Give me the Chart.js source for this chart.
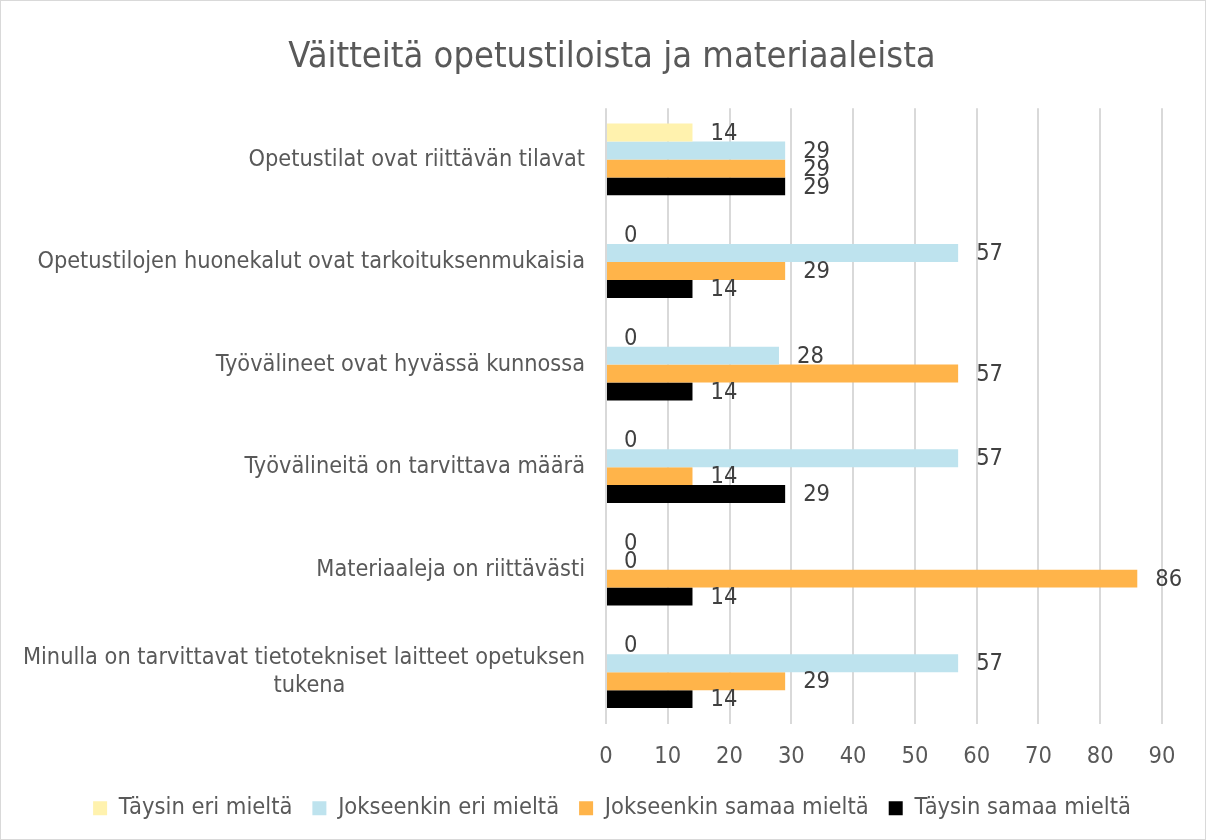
<!DOCTYPE html>
<html>
<head>
<meta charset="utf-8">
<script src="https://cdn.jsdelivr.net/npm/chart.js@4"></script>
<style>
html,body{margin:0;padding:0;background:#fff;}
canvas{display:block;}
</style>
</head>
<body>
<canvas id="c" width="1206" height="840"></canvas>
<script>
const titleText = 'Väitteitä opetustiloista ja materiaaleista';
const categories = [
  'Opetustilat ovat riittävän tilavat',
  'Opetustilojen huonekalut ovat tarkoituksenmukaisia',
  'Työvälineet ovat hyvässä kunnossa',
  'Työvälineitä on tarvittava määrä',
  'Materiaaleja on riittävästi',
  ['Minulla on tarvittavat tietotekniset laitteet opetuksen', 'tukena' + '\u00a0'.repeat(36)]
];
const seriesNames = ['Täysin eri mieltä', 'Jokseenkin eri mieltä', 'Jokseenkin samaa mieltä', 'Täysin samaa mieltä'];
const taysinEri = [14, 0, 0, 0, 0, 0];
const jokseenkinEri = [29, 57, 28, 57, 0, 57];
const jokseenkinSamaa = [29, 29, 57, 14, 86, 29];
const taysinSamaa = [29, 14, 14, 29, 14, 14];
const xTicks = [0, 10, 20, 30, 40, 50, 60, 70, 80, 90];
const colors = ['#FFF2AE', '#BEE3EE', '#FFB44A', '#000000'];

const FONT = '"DejaVu Sans Condensed", "Liberation Sans Narrow", "DejaVu Sans", sans-serif';

const frame = {
  id: 'frame',
  beforeDraw(chart) {
    const ctx = chart.ctx;
    ctx.save();
    ctx.fillStyle = '#fff';
    ctx.fillRect(0, 0, chart.width, chart.height);
    ctx.strokeStyle = '#d9d9d9';
    ctx.lineWidth = 1;
    ctx.strokeRect(0.5, 0.5, chart.width - 1, chart.height - 1);
    ctx.restore();
  }
};

const valueLabels = {
  id: 'valueLabels',
  afterDatasetsDraw(chart) {
    const ctx = chart.ctx;
    ctx.save();
    ctx.font = '23.5px ' + FONT;
    ctx.fillStyle = '#404040';
    ctx.textAlign = 'left';
    ctx.textBaseline = 'middle';
    chart.data.datasets.forEach((ds, i) => {
      const meta = chart.getDatasetMeta(i);
      meta.data.forEach((bar, j) => {
        ctx.fillText(String(ds.data[j]), bar.x + 18, bar.y + 1);
      });
    });
    ctx.restore();
  }
};

new Chart(document.getElementById('c'), {
  type: 'bar',
  data: {
    labels: categories,
    datasets: [
      { label: seriesNames[0], data: taysinEri, backgroundColor: colors[0] },
      { label: seriesNames[1], data: jokseenkinEri, backgroundColor: colors[1] },
      { label: seriesNames[2], data: jokseenkinSamaa, backgroundColor: colors[2] },
      { label: seriesNames[3], data: taysinSamaa, backgroundColor: colors[3] }
    ]
  },
  options: {
    indexAxis: 'y',
    responsive: false,
    animation: false,
    devicePixelRatio: 1,
    layout: { padding: { left: 18, right: 0, top: 0, bottom: 10 } },
    datasets: { bar: { categoryPercentage: 0.7, barPercentage: 1.0 } },
    scales: {
      x: {
        min: 0, max: 90,
        afterBuildTicks(scale) { scale.ticks = xTicks.map(v => ({ value: v })); },
        afterFit(scale) { scale.height = 53; },
        grid: { color: '#d9d9d9', lineWidth: 2, drawTicks: false },
        border: { display: false },
        ticks: { color: '#595959', font: { family: FONT, size: 23.5 }, padding: 19 }
      },
      y: {
        afterFit(scale) { scale.width = 588; },
        grid: { display: false },
        border: { display: false },
        ticks: { color: '#595959', font: { family: FONT, size: 23.3 }, padding: 13 }
      },
      yRight: {
        type: 'category',
        position: 'right',
        afterFit(scale) { scale.width = 44; },
        grid: { display: false, drawTicks: false },
        border: { display: false },
        ticks: { display: false }
      }
    },
    plugins: {
      title: {
        display: true, text: titleText, color: '#595959',
        font: { family: FONT, size: 36, weight: 'normal' },
        padding: { top: 36, bottom: 29 }
      },
      legend: {
        position: 'bottom',
        labels: {
          color: '#595959', font: { family: FONT, size: 23.5 },
          boxWidth: 14, boxHeight: 14, padding: 20
        }
      },
      tooltip: { enabled: false }
    }
  },
  plugins: [frame, valueLabels]
});
</script>
</body>
</html>
